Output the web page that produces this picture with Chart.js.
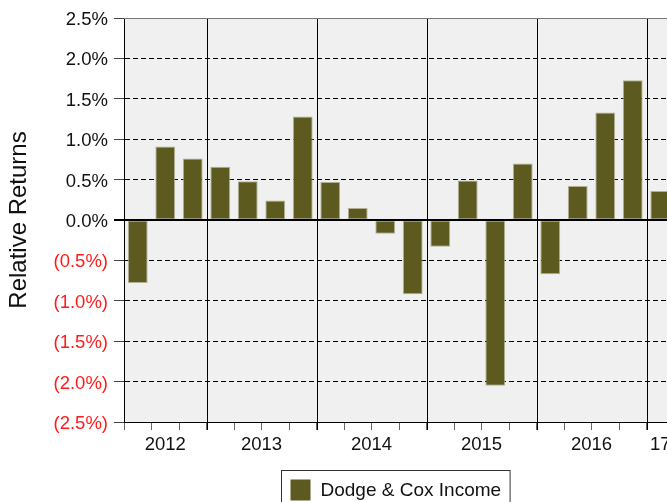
<!DOCTYPE html>
<html>
<head>
<meta charset="utf-8">
<script src="https://cdn.jsdelivr.net/npm/chart.js@4"></script>
<style>
  html, body { margin: 0; padding: 0; background: #fff; overflow: hidden; }
  #wrap { width: 690px; height: 510px; }
</style>
</head>
<body>
<div id="wrap"><canvas id="retChart" width="690" height="510"></canvas></div>
<script>
/* quarterly relative returns, 2012 Q2 - 2017 Q1 */
const quarters = [
    "2012 Q2", "2012 Q3", "2012 Q4",
    "2013 Q1", "2013 Q2", "2013 Q3", "2013 Q4",
    "2014 Q1", "2014 Q2", "2014 Q3", "2014 Q4",
    "2015 Q1", "2015 Q2", "2015 Q3", "2015 Q4",
    "2016 Q1", "2016 Q2", "2016 Q3", "2016 Q4",
    "2017 Q1"
];
const relReturns = [
    -0.78, 0.91, 0.76,
    0.66, 0.48, 0.24, 1.28,
    0.47, 0.15, -0.17, -0.92,
    -0.33, 0.49, -2.05, 0.70,
    -0.67, 0.42, 1.33, 1.73,
    0.36
];
const yearKeys = ["2012", "2013", "2014", "2015", "2016", "2017"];
const yearLabels = ["2012", "2013", "2014", "2015", "2016", "17"];
const yTicks = [2.5, 2.0, 1.5, 1.0, 0.5, 0, -0.5, -1.0, -1.5, -2.0, -2.5];
const seriesName = "Dodge & Cox Income";

const BAR = "#5c5a1f";
const FONT = "'Liberation Sans', Arial, sans-serif";

const framePlugin = {
    id: "frame",
    beforeDraw(chart) {
        const { ctx, chartArea: a } = chart;
        ctx.save();
        ctx.fillStyle = "#f0f0f0";
        ctx.fillRect(a.left, a.top, a.right - a.left, a.bottom - a.top);
        ctx.restore();
    },
    beforeDatasetsDraw(chart) {
        // year separators
        const { ctx, chartArea: a } = chart;
        const x = chart.scales.x;
        const half = (x.getPixelForValue(1) - x.getPixelForValue(0)) / 2;
        ctx.save();
        ctx.strokeStyle = "#000";
        ctx.lineWidth = 1;
        quarters.forEach((q, i) => {
            if (i > 0 && q.endsWith("Q1")) {
                const px = Math.round(x.getPixelForValue(i) - half) + 0.5;
                ctx.beginPath();
                ctx.moveTo(px, a.top);
                ctx.lineTo(px, a.bottom + 8);
                ctx.stroke();
            }
        });
        ctx.restore();
    },
    afterDatasetsDraw(chart) {
        const { ctx, chartArea: a } = chart;
        const x = chart.scales.x, y = chart.scales.y;
        ctx.save();
        // top border
        ctx.strokeStyle = "#777";
        ctx.lineWidth = 1;
        ctx.beginPath();
        ctx.moveTo(a.left, a.top + 0.5);
        ctx.lineTo(a.right, a.top + 0.5);
        ctx.stroke();
        // zero line
        const y0 = y.getPixelForValue(0);
        ctx.strokeStyle = "#000";
        ctx.lineWidth = 2;
        ctx.beginPath();
        ctx.moveTo(a.left - 10, y0);
        ctx.lineTo(a.right, y0);
        ctx.stroke();

        // year labels centred on each group
        const half = (x.getPixelForValue(1) - x.getPixelForValue(0)) / 2;
        ctx.fillStyle = "#111";
        ctx.font = "18.5px " + FONT;
        ctx.textAlign = "center";
        ctx.textBaseline = "middle";
        yearKeys.forEach((yr, k) => {
            const idx = quarters.map((q, i) => q.startsWith(yr) ? i : -1).filter(i => i >= 0);
            if (!idx.length) return;
            const l = x.getPixelForValue(idx[0]) - half;
            const r = x.getPixelForValue(idx[idx.length - 1]) + half;
            ctx.fillText(yearLabels[k], (l + r) / 2, a.bottom + 23);
        });

        // legend
        ctx.font = "19px " + FONT;
        const tw = ctx.measureText(seriesName).width;
        const bx = 281.5, by = 470.5;
        const bw = 39 + tw + 9;
        ctx.strokeStyle = "#333";
        ctx.lineWidth = 1;
        ctx.strokeRect(bx, by, bw, 50);
        ctx.fillStyle = BAR;
        ctx.fillRect(bx + 9, by + 9, 20, 21);
        ctx.fillStyle = "#111";
        ctx.textAlign = "left";
        ctx.fillText(seriesName, bx + 39, by + 20);
        ctx.restore();
    }
};

new Chart(document.getElementById("retChart"), {
    type: "bar",
    data: {
        labels: quarters,
        datasets: [{
            label: seriesName,
            data: relReturns,
            backgroundColor: BAR,
            borderColor: "rgba(170,168,140,0.9)",
            borderWidth: 1,
            borderSkipped: false,
            barPercentage: 0.72,
            categoryPercentage: 1.0
        }]
    },
    options: {
        responsive: false,
        animation: false,
        layout: { padding: { top: 18, right: 16, bottom: 58, left: 0 } },
        scales: {
            x: {
                offset: true,
                afterFit: s => { s.height = 30; },
                grid: {
                    offset: true,
                    drawOnChartArea: false,
                    drawTicks: true,
                    tickLength: 8,
                    color: "#666"
                },
                border: { display: true, color: "#000", width: 1 },
                ticks: { display: false }
            },
            y: {
                min: -2.5,
                max: 2.5,
                afterFit: s => { s.width = 124; },
                afterBuildTicks: s => { s.ticks = yTicks.map(v => ({ value: v })); },
                ticks: {
                    padding: 6,
                    labelOffset: 2,
                    font: { size: 18.5, family: FONT },
                    color: c => c.tick.value < 0 ? "#ff1a1a" : "#111",
                    callback: v => v < 0
                        ? "(" + Math.abs(v).toFixed(1) + "%)"
                        : v.toFixed(1) + "%"
                },
                grid: {
                    color: "#000",
                    lineWidth: 1,
                    tickLength: 10,
                    tickColor: "#444"
                },
                border: { display: true, color: "#000", width: 1, dash: [5, 3] },
                title: {
                    display: true,
                    text: "Relative Returns",
                    color: "#111",
                    font: { size: 24, family: FONT },
                    padding: { top: 5, bottom: 0 }
                }
            }
        },
        plugins: {
            legend: { display: false },
            tooltip: { enabled: false }
        }
    },
    plugins: [framePlugin]
});
</script>
</body>
</html>
